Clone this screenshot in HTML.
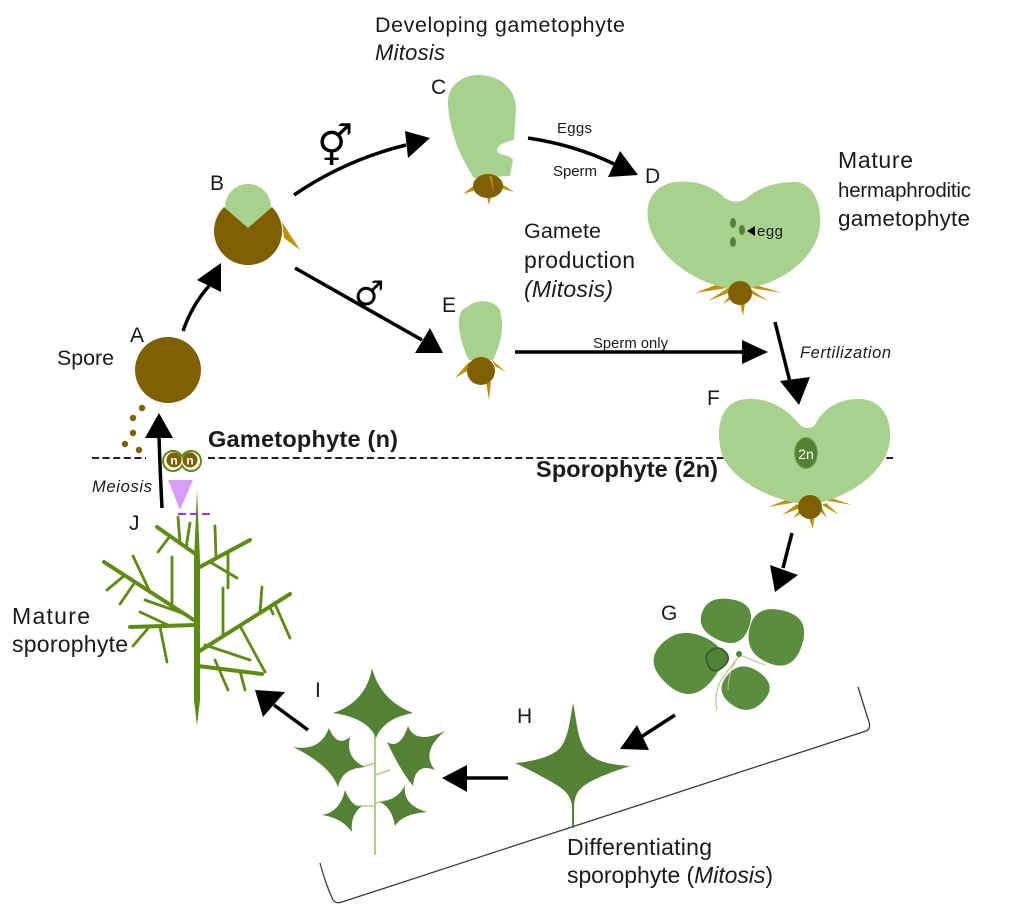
<!DOCTYPE html>
<html><head><meta charset="utf-8"><style>
html,body{margin:0;padding:0;background:#fff;}
svg{display:block;}
text{font-family:"Liberation Sans",Arial,sans-serif;fill:#1a1a1a;}
</style></head><body>
<svg width="1024" height="908" viewBox="0 0 1024 908" xmlns="http://www.w3.org/2000/svg">
<!-- dashed line -->
<line x1="92" y1="458" x2="146" y2="458" stroke="#222" stroke-width="2" stroke-dasharray="7,3.6"/>
<line x1="208" y1="458" x2="893" y2="458" stroke="#222" stroke-width="2" stroke-dasharray="7,3.6"/>

<!-- arrows -->
<g stroke="#000" stroke-width="3.5" fill="none">
<path d="M183,331 Q192,305 209,286"/>
<path d="M294,195 Q345,160 406,145"/>
<path d="M295,268 L422,340"/>
<path d="M528,138 Q575,145 614,164"/>
<path d="M515,352 L745,352"/>
<path d="M775,322 L790,382"/>
<path d="M792,533 L783,568"/>
<path d="M675,715 L641,737"/>
<path d="M508,778 L465,778"/>
<path d="M308,730 L274,705"/>
<path d="M162,508 Q160,470 159,436"/>
</g>
<g fill="#000">
<polygon points="197,280 221,263 221,292"/>
<polygon points="405,131 430,138 408,158"/>
<polygon points="415,353 430,328 443,353"/>
<polygon points="608,177 620,151 638,175"/>
<polygon points="742,340 768,352 742,364"/>
<polygon points="780,381 810,377 799,405"/>
<polygon points="770,565 798,575 775,592"/>
<polygon points="637,725 649,750 620,749"/>
<polygon points="467,765 467,792 442,778"/>
<polygon points="263,717 285,692 255,690"/>
<polygon points="145,438 173,438 159,413"/>
</g>

<!-- bracket -->
<path d="M320,863 Q326,885 333,900 Q336,904 342,902 L866,731 Q871,729 869,722 L858,687" fill="none" stroke="#3a3a3a" stroke-width="1.3"/>

<!-- A spore -->
<circle cx="168" cy="370" r="33" fill="#7f6000"/>
<g fill="#7f6000">
<circle cx="142" cy="408" r="3.2"/><circle cx="133" cy="418" r="3.2"/><circle cx="133" cy="433" r="3.2"/><circle cx="125" cy="444" r="3.2"/><circle cx="139" cy="450" r="3.2"/>
</g>

<!-- B -->
<circle cx="248" cy="207" r="23" fill="#a9d18e"/>
<path d="M248,228 L224,207 A34,34 0 1 0 272,207 Z" fill="#7f6000"/>
<polygon points="282,222 284,238 300,250" fill="#bf9000"/>

<!-- C -->
<path d="M448,105 C446,85 465,74 480,75 C500,76 516,88 516,110 L514,140 C505,142 497,145 497,150 C497,156 510,154 513,160 L510,176 L474,178 C462,160 450,135 448,105 Z" fill="#a9d18e"/>
<g fill="#bf9000">
<polygon points="477,183 479,189 463,194"/>
<polygon points="499,182 500,188 514,192"/>
<polygon points="487,197 491,197 489,205"/>
</g>
<ellipse cx="488" cy="186" rx="15" ry="12" fill="#7f6000"/>
<polygon points="489,176 492,176 494,193" fill="#bf9000"/>

<!-- D -->
<g fill="#bf9000">
<polygon points="721,283 727,288 695,293"/>
<polygon points="728,288 733,291 708,301"/>
<polygon points="732,293 736,296 723,304"/>
<polygon points="748,292 752,290 768,301"/>
<polygon points="752,288 756,285 782,293"/>
<polygon points="745,295 748,296 762,304"/>
<polygon points="740,303 745,303 743,316"/>
</g>
<path d="M725,198 C712,185 695,180 675,182 C655,185 645,200 648,220 C652,250 690,285 738,290 C785,285 818,255 820,225 C822,200 810,182 795,182 C775,182 758,188 747,198 C740,203 732,203 725,198 Z" fill="#a9d18e"/>
<circle cx="740" cy="293" r="12" fill="#7f6000"/>
<g fill="#548235">
<ellipse cx="733" cy="223" rx="3" ry="5"/>
<ellipse cx="742" cy="230" rx="3" ry="5"/>
<ellipse cx="733" cy="242" rx="3" ry="5"/>
</g>
<polygon points="747,231 755,226 755,236" fill="#000"/>
<text x="757" y="236" font-size="15" textLength="26">egg</text>

<!-- E -->
<path d="M470,305 C478,299 495,300 500,310 C505,330 500,345 493,360 L469,360 C461,345 455,320 462,310 Z" fill="#a9d18e"/>
<g fill="#bf9000">
<polygon points="469,362 474,367 455,378"/>
<polygon points="492,360 495,366 506,372"/>
<polygon points="486,382 491,382 489,400"/>
</g>
<circle cx="481" cy="371" r="14" fill="#7f6000"/>

<!-- F -->
<g fill="#bf9000">
<polygon points="791,498 797,502 768,507"/>
<polygon points="797,504 800,508 782,515"/>
<polygon points="800,510 804,512 793,518"/>
<polygon points="819,510 822,508 827,518"/>
<polygon points="822,505 826,503 839,515"/>
<polygon points="824,500 828,497 852,505"/>
<polygon points="809,518 814,518 813,529"/>
</g>
<path d="M800,425 C785,405 760,395 740,400 C720,405 715,430 722,455 C735,485 780,503 810,505 C840,500 878,480 888,450 C895,425 885,400 860,399 C838,398 822,410 815,425 C810,429 805,429 800,425 Z" fill="#a9d18e"/>
<circle cx="810" cy="507" r="12" fill="#7f6000"/>
<ellipse cx="806" cy="453" rx="11.5" ry="15.5" fill="#548235" stroke="#7aa65a" stroke-width="1"/>
<text x="806" y="459" font-size="14" fill="#fff" style="fill:#fff" text-anchor="middle">2n</text>

<!-- G -->
<g fill="#5a8e3e">
<path d="M718.5,640 Q696,630 702,612.5 Q708,595 732.5,599.5 Q757,604 749,627 Q741,650 718.5,640 Z"/>
<path d="M749.5,628.5 Q755,604 783,610.5 Q811,617 802,645 Q793,673 768.5,663 Q744,653 749.5,628.5 Z"/>
<path d="M727.5,675 Q714,691 731,704 Q748,717 763,701.5 Q778,686 759.5,672.5 Q741,659 727.5,675 Z"/>
<path d="M661.5,644 Q680,625 707,638.5 Q734,652 713,679 Q692,706 667.5,684.5 Q643,663 661.5,644 Z"/>
</g>
<path d="M711.5,650 Q720,645 726,652.5 Q732,660 722.5,667.5 Q713,675 708,665 Q703,655 711.5,650 Z" fill="#4f8236" stroke="#35562a" stroke-width="1.5"/>
<path d="M740,655 Q728,670 720,682 Q714,695 717,710" fill="none" stroke="#cdbf94" stroke-width="1.2"/>
<path d="M740,655 Q752,660 765,665" fill="none" stroke="#cdbf94" stroke-width="1.2"/>
<path d="M740,655 Q728,670 728,690" fill="none" stroke="#cdbf94" stroke-width="1"/>
<circle cx="739" cy="654" r="3" fill="#4f8236"/>

<!-- H -->
<path d="M573,703 C577,720 577,745 590,755 C600,763 615,765 630,766 C612,772 595,778 585,785 C578,790 575,795 574,805 L574,828 L572,828 L572,805 C570,795 565,790 555,784 C545,778 530,770 515,763 C530,762 548,758 558,750 C568,742 570,720 573,703 Z" fill="#548235"/>

<!-- I -->
<line x1="375" y1="735" x2="375" y2="855" stroke="#a9d18e" stroke-width="2"/>
<g stroke="#a9d18e" stroke-width="1.5">
<line x1="375" y1="763" x2="358" y2="768"/>
<line x1="375" y1="775" x2="390" y2="770"/>
<line x1="375" y1="806" x2="358" y2="806"/>
<line x1="375" y1="803" x2="390" y2="800"/>
</g>
<g fill="#548235">
<path d="M372,668 Q380,700 413,713 Q384,718 376,738 Q368,718 333,713 Q366,702 372,668 Z"/>
<path d="M293,747 Q320,752 329,728 Q337,748 350,737 Q345,758 365,767 Q342,768 338,787 Q330,765 293,747 Z"/>
<path d="M387,742 Q400,750 408,726 Q415,745 445,731 Q420,752 435,770 Q415,762 413,786 Q400,770 387,742 Z"/>
<path d="M322,815 Q340,812 345,790 Q352,808 362,806 Q350,815 352,832 Q342,818 322,815 Z"/>
<path d="M405,785 Q402,805 427,812 Q402,814 395,826 Q392,808 380,802 Q398,800 405,785 Z"/>
</g>

<!-- J mature sporophyte -->
<polygon points="197,490 200,560 200,700 197,726 194,700 194,560" fill="#5e8c13"/>
<g stroke="#5e8c13" stroke-linecap="round" fill="none">
<g stroke-width="4">
<line x1="197" y1="555" x2="157" y2="527"/>
<line x1="198" y1="568" x2="250" y2="540"/>
<line x1="197" y1="622" x2="104" y2="562"/>
<line x1="195" y1="625" x2="130" y2="627"/>
<line x1="198" y1="652" x2="290" y2="594"/>
<line x1="198" y1="666" x2="262" y2="674"/>
</g>
<g stroke-width="2.8">
<line x1="180" y1="543" x2="178" y2="517"/>
<line x1="170" y1="536" x2="158" y2="552"/>
<line x1="186" y1="548" x2="190" y2="523"/>
<line x1="216" y1="558" x2="215" y2="526"/>
<line x1="210" y1="562" x2="237" y2="578"/>
<line x1="228" y1="552" x2="228" y2="588"/>
<line x1="172" y1="607" x2="172" y2="557"/>
<line x1="150" y1="592" x2="133" y2="556"/>
<line x1="125" y1="575" x2="107" y2="590"/>
<line x1="135" y1="582" x2="120" y2="604"/>
<line x1="185" y1="614" x2="145" y2="600"/>
<line x1="160" y1="627" x2="167" y2="662"/>
<line x1="150" y1="626" x2="133" y2="646"/>
<line x1="170" y1="626" x2="140" y2="612"/>
<line x1="223" y1="636" x2="223" y2="588"/>
<line x1="260" y1="613" x2="262" y2="587"/>
<line x1="275" y1="604" x2="290" y2="638"/>
<line x1="270" y1="607" x2="273" y2="614"/>
<line x1="240" y1="626" x2="265" y2="672"/>
<line x1="215" y1="660" x2="228" y2="690"/>
<line x1="205" y1="645" x2="250" y2="660"/>
<line x1="240" y1="671" x2="245" y2="690"/>
</g>
</g>

<!-- meiosis spores nn -->
<polygon points="168,480 193,480 180,510" fill="#d79cf7"/>
<line x1="178" y1="514" x2="213" y2="514" stroke="#9933ee" stroke-width="2" stroke-dasharray="8,4"/>
<path d="M182,456.6 A10,10 0 1 0 182,465.4 A10,10 0 1 0 182,456.6 Z" fill="#fff" stroke="#5e8c13" stroke-width="2"/>
<circle cx="174" cy="460" r="7.5" fill="#7f6000"/>
<circle cx="190" cy="460" r="7.5" fill="#7f6000"/>
<text x="174" y="464.5" font-size="12" font-weight="bold" text-anchor="middle" style="fill:#fff">n</text>
<text x="190" y="464.5" font-size="12" font-weight="bold" text-anchor="middle" style="fill:#fff">n</text>

<!-- sex symbols -->
<text x="317" y="160" font-size="40" style="font-family:'DejaVu Sans',sans-serif;fill:#000">⚥</text>
<text x="354" y="305" font-size="34" style="font-family:'DejaVu Sans',sans-serif;fill:#000">♂</text>

<!-- labels -->
<text x="375" y="32" font-size="21.5" textLength="250">Developing gametophyte</text>
<text x="375" y="60" font-size="22" font-style="italic" textLength="70">Mitosis</text>
<text x="431" y="94" font-size="21">C</text>
<text x="557" y="133" font-size="15" textLength="35">Eggs</text>
<text x="553" y="176" font-size="15" textLength="44">Sperm</text>
<text x="645" y="183" font-size="21">D</text>
<text x="838" y="168" font-size="23" textLength="75">Mature</text>
<text x="838" y="197" font-size="20.5" textLength="133">hermaphroditic</text>
<text x="838" y="226" font-size="22.5" textLength="132">gametophyte</text>
<text x="210" y="190" font-size="21">B</text>
<text x="524" y="238" font-size="21.5" textLength="77">Gamete</text>
<text x="524" y="268" font-size="23" textLength="111">production</text>
<text x="524" y="297" font-size="23" font-style="italic" textLength="89">(Mitosis)</text>
<text x="442" y="312" font-size="21">E</text>
<text x="130" y="342" font-size="21">A</text>
<text x="57" y="365" font-size="21.4" textLength="57">Spore</text>
<text x="593" y="348" font-size="14.8" textLength="75">Sperm only</text>
<text x="800" y="358" font-size="16.5" font-style="italic" textLength="91">Fertilization</text>
<text x="707" y="405" font-size="21">F</text>
<text x="208" y="447" font-size="23.5" font-weight="bold" textLength="190">Gametophyte (n)</text>
<text x="536" y="477" font-size="23.5" font-weight="bold" textLength="182">Sporophyte (2n)</text>
<text x="92" y="492" font-size="16.5" font-style="italic" textLength="60">Meiosis</text>
<text x="129" y="530" font-size="21">J</text>
<text x="12" y="624" font-size="23" textLength="78">Mature</text>
<text x="12" y="652" font-size="23" textLength="116">sporophyte</text>
<text x="661" y="620" font-size="21">G</text>
<text x="315" y="697" font-size="21">I</text>
<text x="517" y="723" font-size="21">H</text>
<text x="567" y="855" font-size="23" textLength="145">Differentiating</text>
<text x="567" y="883" font-size="23" textLength="206">sporophyte (<tspan font-style="italic">Mitosis</tspan>)</text>
</svg>
</body></html>
